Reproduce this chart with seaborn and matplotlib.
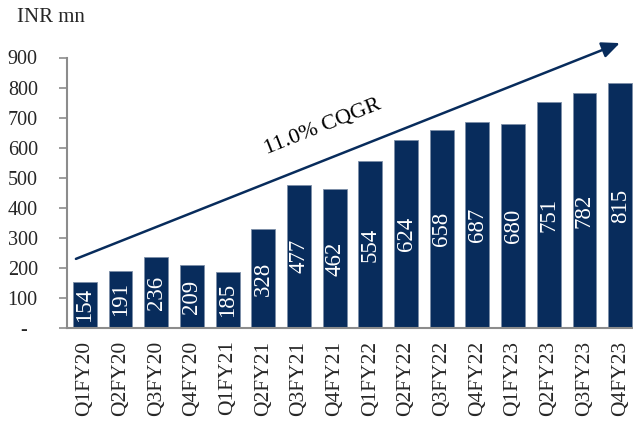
import matplotlib
matplotlib.use("Agg")
import matplotlib.pyplot as plt
import seaborn as sns
import pandas as pd

categories = ["Q1FY20", "Q2FY20", "Q3FY20", "Q4FY20", "Q1FY21", "Q2FY21", "Q3FY21", "Q4FY21",
              "Q1FY22", "Q2FY22", "Q3FY22", "Q4FY22", "Q1FY23", "Q2FY23", "Q3FY23", "Q4FY23"]
values = [154, 191, 236, 209, 185, 328, 477, 462, 554, 624, 658, 687, 680, 751, 782, 815]
y_ticks = [0, 100, 200, 300, 400, 500, 600, 700, 800, 900]
y_tick_labels = ["-  ", "100", "200", "300", "400", "500", "600", "700", "800", "900"]
unit_label = "INR mn"
cagr_label = "11.0% CQGR"

sns.set_theme(style="white")
plt.rcParams["font.family"] = ["Liberation Serif", "DejaVu Serif"]

navy = "#082c5c"
grey = "#8c8c8c"

fig = plt.figure(figsize=(6.33, 4.22), dpi=100)
ax = fig.add_axes([67 / 633, 1 - 328 / 422, 571 / 633, 270.5 / 422])

df = pd.DataFrame({"q": categories, "v": values})
sns.barplot(data=df, x="q", y="v", color=navy, saturation=1, width=0.67,
            edgecolor="#7d8fa8", linewidth=0.6, ax=ax)

for cont in ax.containers:
    ax.bar_label(cont, labels=[str(v) for v in values], label_type="center",
                 rotation=90, color="white", fontsize=16.5)

ax.set_xlim(-0.5, 15.5)
ax.set_ylim(0, 900)
ax.set_yticks(y_ticks)
ax.set_yticklabels(y_tick_labels, fontsize=14.5)
ax.tick_params(axis="y", direction="out", length=6, width=1.2, color=grey, pad=15, left=True)
ax.tick_params(axis="x", length=0, pad=9, labelsize=15.5, rotation=90)
ax.set_xlabel("")
ax.set_ylabel("")
for s in ["top", "right"]:
    ax.spines[s].set_visible(False)
for s in ["left", "bottom"]:
    ax.spines[s].set_color(grey)
    ax.spines[s].set_linewidth(1.5)

ax.annotate("", xy=(14.99, 948), xytext=(-0.25, 230),
            arrowprops=dict(arrowstyle="-|>,head_length=0.9,head_width=0.4",
                            color=navy, lw=1.8, shrinkA=0, shrinkB=0),
            annotation_clip=False)
ax.text(6.67, 669, cagr_label, rotation=21.7, rotation_mode="anchor",
        ha="center", va="center", fontsize=16, color="black")

fig.text(17 / 633, 1 - 18 / 422, unit_label, fontsize=15, ha="left", va="center")

fig.savefig("out.png", dpi=100)
